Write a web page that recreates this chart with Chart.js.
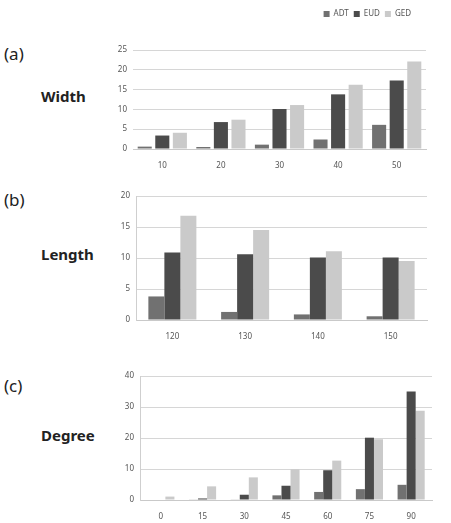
<!DOCTYPE html>
<html>
<head>
<meta charset="utf-8">
<script src="https://cdn.jsdelivr.net/npm/chart.js@4/dist/chart.umd.min.js"></script>
<style>
  html, body { margin: 0; padding: 0; background: #fff; }
  body { width: 451px; height: 523px; position: relative; overflow: hidden; font-family: "Noto Sans", "Open Sans", sans-serif; }
  .box { position: absolute; }
  .tag { position: absolute; left: 4px; font-size: 17px; color: #222; }
  .name { position: absolute; left: 41px; font-size: 15px; font-weight: bold; color: #222; }
</style>
</head>
<body>
<div class="tag" style="top:42px">(a)</div>
<div class="name" style="top:86px">Width</div>
<div class="tag" style="top:188px">(b)</div>
<div class="name" style="top:244px">Length</div>
<div class="tag" style="top:374px">(c)</div>
<div class="name" style="top:425px">Degree</div>

<div class="box" style="left:95px;top:0px;width:345px;height:175px"><canvas id="cA"></canvas></div>
<div class="box" style="left:95px;top:180px;width:345px;height:165px"><canvas id="cB"></canvas></div>
<div class="box" style="left:95px;top:360px;width:345px;height:163px"><canvas id="cC"></canvas></div>

<script>
const seriesNames = ["ADT", "EUD", "GED"];
const seriesColors = ["#717171", "#4b4b4b", "#cacaca"];

const widthLabels = ["10", "20", "30", "40", "50"];
const widthADT = [0.6, 0.5, 1.1, 2.4, 6.1];
const widthEUD = [3.4, 6.8, 10.1, 13.8, 17.3];
const widthGED = [4.1, 7.4, 11.1, 16.2, 22.1];

const lengthLabels = ["120", "130", "140", "150"];
const lengthADT = [3.8, 1.3, 0.9, 0.6];
const lengthEUD = [10.9, 10.6, 10.1, 10.1];
const lengthGED = [16.8, 14.5, 11.1, 9.5];

const degreeLabels = ["0", "15", "30", "45", "60", "75", "90"];
const degreeADT = [0, 0.2, 0.2, 1.5, 2.6, 3.5, 4.9];
const degreeEUD = [0, 0.5, 1.7, 4.6, 9.6, 20.1, 35];
const degreeGED = [1.1, 4.4, 7.3, 9.9, 12.7, 19.6, 28.8];

const tickFont = { family: "'Noto Sans', sans-serif", size: 8 };

// nudge the legend up and a bit left of the plot's right edge, like the original
const legendShift = {
  id: "legendShift",
  afterLayout(chart, args, opts) {
    const lg = chart.legend;
    if (!lg || !opts.on) return;
    lg.right -= opts.dx;
    lg.width -= opts.dx;
    lg.top -= opts.dy;
    lg.bottom -= opts.dy;
  }
};

function makeChart(id, cfg) {
  const datasets = cfg.values.map((vals, i) => ({
    label: seriesNames[i],
    data: vals,
    backgroundColor: seriesColors[i],
    borderWidth: 0,
    categoryPercentage: cfg.catPct,
    barPercentage: cfg.barPct
  }));
  return new Chart(document.getElementById(id), {
    type: "bar",
    data: { labels: cfg.labels, datasets },
    plugins: [legendShift],
    options: {
      responsive: true,
      maintainAspectRatio: false,
      animation: false,
      layout: { padding: { top: cfg.padTop, right: cfg.padRight, left: 0, bottom: 0 } },
      plugins: {
        tooltip: { enabled: false },
        legendShift: { on: cfg.legend, dx: 10, dy: 22 },
        legend: cfg.legend ? {
          display: true,
          align: "end",
          labels: { boxWidth: 6, boxHeight: 6, padding: 5, color: "#555", font: { family: "'Noto Sans', sans-serif", size: 8 } }
        } : { display: false }
      },
      scales: {
        x: {
          grid: { display: false },
          border: { display: true, color: "#c9c9c9" },
          ticks: { color: "#555", font: tickFont, padding: 4 },
          afterFit: (s) => { s.height = cfg.xHeight; }
        },
        y: {
          min: 0,
          max: cfg.max,
          ticks: { stepSize: cfg.step, color: "#555", font: tickFont, padding: 6 },
          grid: { color: "#d6d6d6", drawTicks: false },
          border: { display: cfg.leftLine, color: "#cfcfcf" },
          afterFit: (s) => { s.width = cfg.yWidth; }
        }
      }
    }
  });
}

makeChart("cA", {
  labels: widthLabels, values: [widthADT, widthEUD, widthGED],
  max: 25, step: 5, catPct: 0.9, barPct: 0.8,
  padTop: 27, padRight: 14, xHeight: 26, yWidth: 38, leftLine: false, legend: true
});
makeChart("cB", {
  labels: lengthLabels, values: [lengthADT, lengthEUD, lengthGED],
  max: 20, step: 5, catPct: 0.66, barPct: 1.0,
  padTop: 16, padRight: 13, xHeight: 25, yWidth: 41, leftLine: true, legend: false
});
makeChart("cC", {
  labels: degreeLabels, values: [degreeADT, degreeEUD, degreeGED],
  max: 40, step: 10, catPct: 0.65, barPct: 1.0,
  padTop: 16, padRight: 8, xHeight: 23, yWidth: 45, leftLine: true, legend: false
});
</script>
</body>
</html>
